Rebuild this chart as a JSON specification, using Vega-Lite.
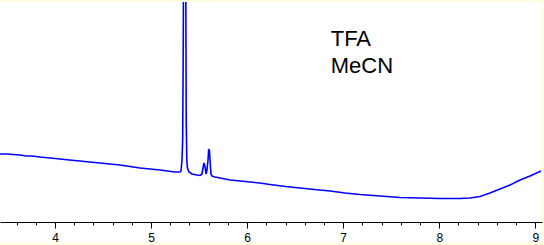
{
  "$schema": "https://vega.github.io/schema/vega-lite/v6.json",
  "width": 542,
  "height": 241,
  "autosize": {"type": "none"},
  "padding": {"left": 0, "top": 2, "right": 2, "bottom": 2},
  "background": "#FFFFE0",
  "config": {"view": {"stroke": null, "fill": "white"}},
  "datasets": {
    "trace": [
      {"t": 3.427, "v": 89}, {"t": 3.50, "v": 89}, {"t": 3.56, "v": 88.5}, {"t": 3.636, "v": 88},
      {"t": 3.70, "v": 87}, {"t": 3.76, "v": 87}, {"t": 3.844, "v": 86}, {"t": 3.95, "v": 85},
      {"t": 4.052, "v": 84}, {"t": 4.15, "v": 83}, {"t": 4.26, "v": 82}, {"t": 4.36, "v": 81},
      {"t": 4.468, "v": 80}, {"t": 4.57, "v": 79}, {"t": 4.677, "v": 78}, {"t": 4.78, "v": 76.5},
      {"t": 4.885, "v": 75}, {"t": 4.99, "v": 74}, {"t": 5.093, "v": 73}, {"t": 5.17, "v": 72},
      {"t": 5.249, "v": 71}, {"t": 5.301, "v": 71}, {"t": 5.312, "v": 72}, {"t": 5.322, "v": 83},
      {"t": 5.329, "v": 103}, {"t": 5.335, "v": 196}, {"t": 5.339, "v": 320}, {"t": 5.359, "v": 320},
      {"t": 5.366, "v": 123}, {"t": 5.372, "v": 83}, {"t": 5.379, "v": 75}, {"t": 5.395, "v": 71},
      {"t": 5.426, "v": 69}, {"t": 5.478, "v": 68}, {"t": 5.51, "v": 67.5}, {"t": 5.53, "v": 69},
      {"t": 5.541, "v": 75}, {"t": 5.551, "v": 80}, {"t": 5.562, "v": 76}, {"t": 5.572, "v": 69},
      {"t": 5.582, "v": 73}, {"t": 5.593, "v": 83}, {"t": 5.6, "v": 94}, {"t": 5.608, "v": 92},
      {"t": 5.617, "v": 78}, {"t": 5.624, "v": 69}, {"t": 5.634, "v": 67}, {"t": 5.665, "v": 66},
      {"t": 5.718, "v": 65}, {"t": 5.822, "v": 63}, {"t": 5.93, "v": 62}, {"t": 6.03, "v": 61},
      {"t": 6.13, "v": 60}, {"t": 6.238, "v": 58.5}, {"t": 6.40, "v": 56.5}, {"t": 6.55, "v": 55},
      {"t": 6.70, "v": 53.5}, {"t": 6.863, "v": 52}, {"t": 7.02, "v": 50}, {"t": 7.175, "v": 48.5},
      {"t": 7.383, "v": 47}, {"t": 7.591, "v": 45.5}, {"t": 7.80, "v": 45}, {"t": 8.008, "v": 44.5},
      {"t": 8.216, "v": 44.5}, {"t": 8.32, "v": 45}, {"t": 8.424, "v": 46.5}, {"t": 8.528, "v": 50},
      {"t": 8.633, "v": 54}, {"t": 8.737, "v": 58}, {"t": 8.841, "v": 63}, {"t": 8.945, "v": 67},
      {"t": 9.059, "v": 72}
    ],
    "labels": [
      {"t": 6.87, "v": 197, "label": "TFA"},
      {"t": 6.87, "v": 170.5, "label": "MeCN"}
    ]
  },
  "layer": [
    {
      "data": {"name": "trace"},
      "mark": {"type": "line", "color": "#0000FF", "strokeWidth": 1.6, "clip": true, "interpolate": "linear"},
      "encoding": {
        "x": {
          "field": "t", "type": "quantitative",
          "scale": {"domain": [3.4274, 9.0697], "nice": false, "zero": false},
          "axis": {
            "orient": "bottom",
            "values": [4, 5, 6, 7, 8, 9], "offset": -21, "grid": false, "title": null,
            "domainColor": "black", "domainWidth": 1, "tickColor": "black", "tickSize": 6, "tickWidth": 1,
            "labelFont": "Liberation Sans", "labelFontSize": 12, "labelColor": "black", "labelPadding": 4,
            "format": "d", "labelFlush": false
          }
        },
        "y": {
          "field": "v", "type": "quantitative",
          "scale": {"domain": [0, 241], "nice": false, "zero": false},
          "axis": null
        }
      }
    },
    {
      "data": {"name": "trace"},
      "mark": {"type": "line", "opacity": 0},
      "encoding": {
        "x": {
          "field": "t", "type": "quantitative",
          "axis": {
            "orient": "bottom",
            "values": [3.6, 3.8, 4.2, 4.4, 4.6, 4.8, 5.2, 5.4, 5.6, 5.8, 6.2, 6.4, 6.6, 6.8, 7.2, 7.4, 7.6, 7.8, 8.2, 8.4, 8.6, 8.8],
            "offset": -21, "grid": false, "title": null, "domain": false, "labels": false,
            "tickColor": "black", "tickSize": 3, "tickWidth": 1
          }
        },
        "y": {"field": "v", "type": "quantitative", "axis": null}
      }
    },
    {
      "data": {"name": "labels"},
      "mark": {"type": "text", "align": "left", "baseline": "alphabetic", "font": "Liberation Sans", "fontSize": 22, "color": "black"},
      "encoding": {
        "x": {"field": "t", "type": "quantitative", "axis": null},
        "y": {"field": "v", "type": "quantitative", "axis": null},
        "text": {"field": "label"}
      }
    }
  ],
  "resolve": {"axis": {"x": "independent"}}
}
